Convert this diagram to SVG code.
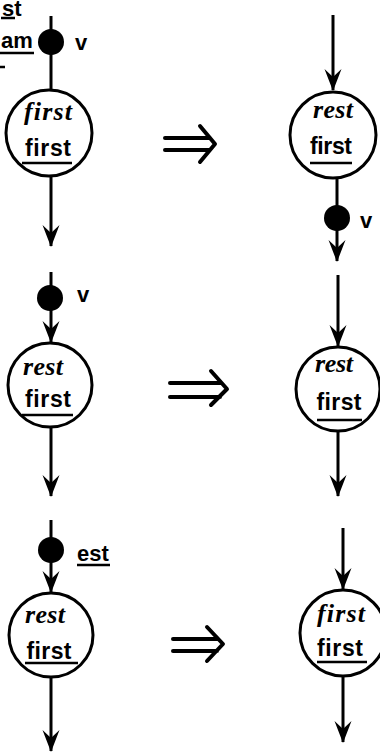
<svg xmlns="http://www.w3.org/2000/svg" width="380" height="753" viewBox="0 0 380 753">
<defs>
<style>
.node{fill:none;stroke:#000;stroke-width:3}
.dot{fill:#000}
.ln{stroke:#000;stroke-width:3;fill:none}
.ul{stroke:#000;stroke-width:2.5}
.it{font-family:"Liberation Serif",serif;font-style:italic;font-weight:bold;font-size:26px;text-anchor:middle}
.bd{font-family:"Liberation Sans",sans-serif;font-weight:bold;font-size:23px;text-anchor:middle}
.lb{font-family:"Liberation Sans",sans-serif;font-weight:bold;font-size:22px}
.dbl{stroke:#000;stroke-width:4;fill:none;stroke-linecap:round;stroke-linejoin:round}
</style>
<marker id="ah" markerUnits="userSpaceOnUse" markerWidth="24" markerHeight="20" viewBox="-22 -10 24 20" refX="0" refY="0" orient="auto">
<path d="M1,0 L-21,-8.5 L-13,0 L-21,8.5 Z" fill="#000"/>
</marker>
</defs>
<rect width="380" height="753" fill="#fff"/>

<g id="edges">
<line class="ln" x1="51" y1="16" x2="51" y2="90"/>
<line class="ln" x1="51" y1="177" x2="51" y2="246" marker-end="url(#ah)"/>
<line class="ln" x1="333" y1="15" x2="333" y2="90" marker-end="url(#ah)"/>
<line class="ln" x1="337" y1="178" x2="337" y2="261" marker-end="url(#ah)"/>
<line class="ln" x1="51" y1="272" x2="51" y2="342" marker-end="url(#ah)"/>
<line class="ln" x1="51" y1="427" x2="51" y2="496" marker-end="url(#ah)"/>
<line class="ln" x1="338" y1="275" x2="338" y2="346" marker-end="url(#ah)"/>
<line class="ln" x1="338" y1="431" x2="338" y2="496" marker-end="url(#ah)"/>
<line class="ln" x1="51" y1="520" x2="51" y2="592" marker-end="url(#ah)"/>
<line class="ln" x1="51" y1="677" x2="51" y2="751" marker-end="url(#ah)"/>
<line class="ln" x1="343" y1="528" x2="343" y2="589" marker-end="url(#ah)"/>
<line class="ln" x1="343" y1="676" x2="343" y2="742" marker-end="url(#ah)"/>
</g>

<g id="fragments">
<text class="lb" x="2" y="16" font-size="17">st</text>
<line class="ul" x1="1" y1="18" x2="15" y2="18"/>
<text class="lb" x="1" y="48">am</text>
<line class="ul" x1="0" y1="53" x2="34" y2="53"/>
<line class="ul" x1="0" y1="67" x2="5" y2="67"/>
</g>

<g id="dot1"><circle class="dot" cx="51" cy="42" r="13"/><text class="lb" x="75" y="50">v</text></g>
<g id="n1">
<circle class="node" cx="49" cy="133" r="43"/>
<text class="it" x="48" y="120" textLength="48">first</text>
<text class="bd" x="48" y="156" textLength="46">first</text>
<line class="ul" x1="22" y1="163" x2="72" y2="163"/>
</g>
<g id="arrow1"><path class="dbl" d="M165,138 H210 M165,150 H210 M200,126 L215,144 L200,162"/></g>
<g id="n2">
<circle class="node" cx="333" cy="135" r="43"/>
<text class="it" x="333" y="118" textLength="40">rest</text>
<text class="bd" x="331" y="154" textLength="42">first</text>
<line class="ul" x1="310" y1="163" x2="352" y2="163"/>
</g>
<g id="dot2"><circle class="dot" cx="337" cy="218" r="13"/><text class="lb" x="360" y="228">v</text></g>

<g id="dot3"><circle class="dot" cx="50" cy="298" r="13"/><text class="lb" x="77" y="302">v</text></g>
<g id="n3">
<circle class="node" cx="50" cy="385" r="42"/>
<text class="it" x="43" y="375" textLength="40">rest</text>
<text class="bd" x="48" y="407" textLength="46">first</text>
<line class="ul" x1="22" y1="415" x2="73" y2="415"/>
</g>
<g id="arrow2"><path class="dbl" d="M170,383 H220 M170,397 H220 M211,371 L227,389 L211,405"/></g>
<g id="n4">
<circle class="node" cx="338" cy="389" r="42"/>
<text class="it" x="334" y="372" textLength="38">rest</text>
<text class="bd" x="339" y="410" textLength="45">first</text>
<line class="ul" x1="317" y1="420" x2="362" y2="420"/>
</g>

<g id="dot5"><circle class="dot" cx="51" cy="550" r="13"/><text class="lb" x="77" y="561">est</text><line class="ul" x1="77" y1="565" x2="110" y2="565"/></g>
<g id="n5">
<circle class="node" cx="51" cy="635" r="42"/>
<text class="it" x="45" y="623" textLength="40">rest</text>
<text class="bd" x="49" y="659" textLength="45">first</text>
<line class="ul" x1="25" y1="663" x2="78" y2="663"/>
</g>
<g id="arrow3"><path class="dbl" d="M173,639 H217 M173,651 H217 M207,627 L223,644 L207,661"/></g>
<g id="n6">
<circle class="node" cx="343" cy="633" r="43"/>
<text class="it" x="341" y="622" textLength="48">first</text>
<text class="bd" x="340" y="656" textLength="46">first</text>
<line class="ul" x1="317" y1="662" x2="367" y2="662"/>
</g>
</svg>
